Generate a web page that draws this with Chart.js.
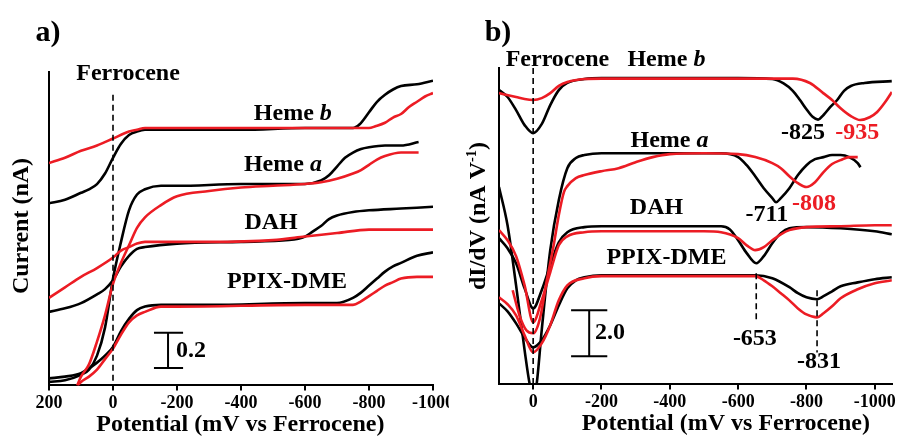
<!DOCTYPE html>
<html>
<head>
<meta charset="utf-8">
<script src="https://cdn.jsdelivr.net/npm/chart.js@4.4.0/dist/chart.umd.min.js"></script>
<style>
  html, body { margin: 0; padding: 0; background: #fff; }
  #wrap { position: relative; width: 898px; height: 436px; overflow: hidden; }
  #panelA { position: absolute; left: 0; top: 0; }
  #panelB { position: absolute; left: 449px; top: 0; background: #fff; }
</style>
</head>
<body>
<div id="wrap">
  <canvas id="panelA" width="470" height="436"></canvas>
  <canvas id="panelB" width="449" height="436"></canvas>
</div>
<script>
// ---- panel a) : current (nA) vs potential (mV vs Fc) ----
const hemeBBlackX = [200, 150, 100, 75, 50, 25, 0, -25, -50, -75, -100, -200, -400, -600, -750, -770, -800, -825, -850, -875, -900, -950, -1000];
const hemeBBlackY = [1.04, 1.06, 1.10, 1.12, 1.15, 1.21, 1.30, 1.38, 1.43, 1.45, 1.46, 1.46, 1.46, 1.47, 1.47, 1.49, 1.56, 1.62, 1.66, 1.69, 1.71, 1.72, 1.74];
const hemeBRedX = [200, 150, 100, 50, 0, -50, -75, -100, -300, -800, -820, -850, -875, -900, -925, -950, -975, -1000];
const hemeBRedY = [1.27, 1.30, 1.34, 1.37, 1.41, 1.45, 1.46, 1.47, 1.47, 1.47, 1.48, 1.50, 1.53, 1.55, 1.59, 1.62, 1.65, 1.67];

const hemeABlackX = [200, 150, 100, 75, 50, 25, 0, -25, -50, -75, -100, -150, -200, -400, -600, -650, -675, -700, -725, -750, -775, -800, -850, -900, -955];
const hemeABlackY = [0.02, 0.03, 0.06, 0.09, 0.17, 0.33, 0.61, 0.82, 1.00, 1.09, 1.12, 1.14, 1.14, 1.15, 1.15, 1.17, 1.20, 1.25, 1.30, 1.33, 1.35, 1.36, 1.37, 1.37, 1.39];
const hemeARedX = [112, 100, 75, 50, 25, 0, -25, -50, -75, -100, -150, -200, -300, -400, -500, -600, -650, -700, -750, -775, -800, -825, -850, -900, -955];
const hemeARedY = [0.0, 0.05, 0.12, 0.25, 0.40, 0.58, 0.70, 0.80, 0.90, 0.96, 1.03, 1.08, 1.11, 1.13, 1.14, 1.15, 1.16, 1.18, 1.21, 1.23, 1.26, 1.29, 1.31, 1.33, 1.33];

const dahBlackX = [200, 150, 100, 50, 25, 0, -25, -50, -75, -100, -200, -400, -550, -600, -625, -650, -675, -700, -750, -800, -900, -1000];
const dahBlackY = [0.42, 0.44, 0.47, 0.52, 0.55, 0.60, 0.68, 0.74, 0.78, 0.79, 0.81, 0.82, 0.83, 0.85, 0.88, 0.91, 0.95, 0.97, 0.99, 1.00, 1.01, 1.02];
const dahRedX = [200, 150, 100, 50, 0, -25, -50, -75, -100, -300, -500, -600, -700, -800, -1000];
const dahRedY = [0.50, 0.56, 0.62, 0.67, 0.73, 0.77, 0.79, 0.81, 0.82, 0.82, 0.83, 0.85, 0.87, 0.89, 0.89];

const ppixBlackX = [200, 150, 100, 50, 25, 0, -25, -50, -75, -100, -150, -300, -600, -700, -750, -775, -800, -825, -850, -875, -900, -950, -1000];
const ppixBlackY = [0.04, 0.05, 0.07, 0.13, 0.17, 0.22, 0.31, 0.38, 0.43, 0.45, 0.46, 0.46, 0.47, 0.47, 0.50, 0.53, 0.57, 0.61, 0.65, 0.68, 0.70, 0.74, 0.76];
const ppixRedX = [110, 100, 75, 50, 25, 0, -25, -50, -75, -100, -150, -200, -600, -750, -775, -800, -825, -850, -875, -900, -950, -1000];
const ppixRedY = [0.0, 0.02, 0.05, 0.09, 0.15, 0.21, 0.29, 0.36, 0.40, 0.42, 0.45, 0.45, 0.46, 0.46, 0.48, 0.51, 0.54, 0.57, 0.59, 0.61, 0.62, 0.62];

// ---- panel b) : dI/dV (nA V^-1) vs potential ----
const dHemeBBlackX = [100, 75, 50, 25, 0, -25, -50, -75, -100, -150, -200, -600, -700, -733, -760, -781, -800, -818, -834, -850, -870, -890, -910, -930, -970, -1050];
const dHemeBBlackY = [12.78, 12.48, 11.91, 11.26, 10.91, 11.30, 12.13, 12.78, 13.09, 13.26, 13.30, 13.30, 13.26, 13.07, 12.75, 12.35, 11.95, 11.62, 11.50, 11.70, 12.05, 12.35, 12.75, 12.96, 13.09, 13.17];
const dHemeBRedX = [100, 50, 25, 0, -25, -50, -75, -100, -150, -200, -760, -810, -849, -875, -899, -930, -957, -985, -1007, -1030, -1050];
const dHemeBRedY = [12.65, 12.48, 12.39, 12.35, 12.43, 12.65, 12.96, 13.13, 13.26, 13.28, 13.28, 13.09, 12.65, 12.35, 12.00, 11.65, 11.48, 11.60, 11.83, 12.25, 12.70];

const dHemeABlackX = [100, 75, 50, 25, 10, 0, -10, -25, -50, -75, -100, -125, -150, -200, -550, -600, -625, -650, -675, -700, -711, -725, -750, -775, -800, -825, -850, -875, -900, -925, -950, -958];
const dHemeABlackY = [8.57, 6.91, 4.30, 1.48, 0.0, -0.5, 0.0, 2.35, 5.83, 8.00, 9.39, 9.83, 9.96, 10.04, 10.04, 9.87, 9.52, 9.04, 8.52, 8.09, 7.91, 8.09, 8.52, 9.09, 9.52, 9.78, 9.87, 9.96, 9.96, 9.87, 9.61, 9.43];
const dHemeARedX = [60, 40, 20, 0, -20, -40, -60, -75, -90, -100, -125, -150, -200, -250, -300, -350, -400, -500, -600, -650, -700, -725, -750, -775, -800, -825, -850, -875, -900, -925, -950];
const dHemeARedY = [4.09, 3.00, 2.35, 2.22, 2.87, 4.52, 6.04, 7.35, 8.35, 8.61, 8.96, 9.09, 9.26, 9.39, 9.65, 9.87, 10.00, 10.04, 10.00, 9.87, 9.61, 9.39, 9.04, 8.74, 8.57, 8.78, 9.22, 9.57, 9.74, 9.87, 9.87];

const dDahBlackX = [100, 75, 50, 25, 0, -25, -50, -75, -100, -150, -200, -550, -575, -600, -625, -653, -675, -700, -725, -750, -800, -900, -1000, -1050];
const dDahBlackY = [6.35, 5.91, 5.26, 4.17, 3.30, 4.09, 5.17, 6.17, 6.61, 6.83, 6.87, 6.87, 6.74, 6.26, 5.70, 5.26, 5.57, 6.13, 6.57, 6.78, 6.83, 6.78, 6.65, 6.52];
const dDahRedX = [100, 75, 50, 25, 0, -25, -50, -75, -100, -150, -200, -500, -550, -600, -625, -650, -675, -700, -725, -750, -800, -900, -1000, -1050];
const dDahRedY = [6.70, 6.26, 5.57, 4.30, 2.70, 3.65, 4.87, 6.04, 6.43, 6.61, 6.65, 6.65, 6.61, 6.35, 6.04, 5.83, 5.96, 6.26, 6.52, 6.70, 6.83, 6.87, 6.91, 6.91];

const dPpixBlackX = [100, 75, 50, 25, 0, -25, -50, -75, -100, -125, -150, -200, -650, -700, -750, -775, -800, -831, -850, -875, -900, -950, -1000, -1050];
const dPpixBlackY = [3.52, 3.17, 2.65, 2.04, 1.61, 1.91, 2.57, 3.43, 4.17, 4.52, 4.65, 4.74, 4.74, 4.61, 4.22, 3.96, 3.78, 3.70, 3.83, 4.04, 4.26, 4.43, 4.57, 4.65];
const dPpixRedX = [100, 75, 50, 25, 0, -25, -50, -75, -100, -150, -200, -650, -675, -700, -725, -750, -775, -800, -831, -850, -875, -900, -950, -1000, -1050];
const dPpixRedY = [3.78, 3.48, 3.00, 2.13, 1.39, 1.78, 2.57, 3.65, 4.30, 4.61, 4.70, 4.70, 4.52, 4.26, 3.96, 3.65, 3.30, 3.04, 2.91, 3.09, 3.39, 3.74, 4.13, 4.39, 4.52];

const RED = "#ec1c24";
const BLACK = "#000";
const SERIF = '"Liberation Serif", "Times New Roman", serif';

function curve(xs, ys, color) {
  return {
    data: xs.map((v, i) => ({ x: v, y: ys[i] })),
    borderColor: color,
    borderWidth: 2.6,
    pointRadius: 0,
    fill: false,
    cubicInterpolationMode: "monotone"
  };
}

// draw a run of text pieces (bold, some italic / superscript) centred or left-aligned
function drawParts(ctx, parts, x, y, size, align) {
  const fontOf = p => (p.italic ? "italic " : "") + "bold " + (p.sup ? size * 0.6 : size) + "px " + SERIF;
  let total = 0;
  parts.forEach(p => { ctx.font = fontOf(p); total += ctx.measureText(p.t).width; });
  let cx = align === "left" ? x : x - total / 2;
  ctx.textBaseline = "middle";
  ctx.textAlign = "left";
  parts.forEach(p => {
    ctx.font = fontOf(p);
    ctx.fillStyle = p.color || BLACK;
    ctx.fillText(p.t, cx, p.sup ? y - size * 0.3 : y);
    cx += ctx.measureText(p.t).width;
  });
}

const figureMarks = {
  id: "figureMarks",
  afterDatasetsDraw(chart, args, o) {
    const { ctx, chartArea } = chart;
    const xs = chart.scales.x, ys = chart.scales.y;
    const px = v => xs.getPixelForValue(v), py = v => ys.getPixelForValue(v);
    ctx.save();

    ctx.strokeStyle = BLACK;
    ctx.lineWidth = 1.6;
    ctx.setLineDash([6, 4]);
    o.guides.forEach(g => {
      ctx.beginPath();
      ctx.moveTo(px(g.at), py(g.from));
      ctx.lineTo(px(g.at), py(g.to));
      ctx.stroke();
    });
    ctx.setLineDash([]);

    // scale bar
    const b = o.bar;
    ctx.lineWidth = 2;
    ctx.beginPath();
    ctx.moveTo(px(b.at), py(b.lo)); ctx.lineTo(px(b.at), py(b.hi));
    ctx.moveTo(px(b.capL), py(b.lo)); ctx.lineTo(px(b.capR), py(b.lo));
    ctx.moveTo(px(b.capL), py(b.hi)); ctx.lineTo(px(b.capR), py(b.hi));
    ctx.stroke();
    drawParts(ctx, [{ t: b.text }], px(b.textAt), py((b.lo + b.hi) / 2), 24, "left");

    o.labels.forEach(l => drawParts(ctx, l.parts, px(l.x), py(l.y), 24, "center"));

    // panel letter and axis titles
    drawParts(ctx, [{ t: o.letter }], chartArea.left - 1, 33, 30, "center");
    drawParts(ctx, [{ t: "Potential (mV vs Ferrocene)" }], px(o.xTitleAt), chartArea.bottom + 39, 24, "center");
    ctx.translate(chartArea.left - o.yTitleGap, o.yTitleY);
    ctx.rotate(-Math.PI / 2);
    drawParts(ctx, o.yTitle, 0, 0, 24, "center");
    ctx.restore();
  }
};

function makeChart(id, datasets, xMin, xMax, yMax, padding, marks) {
  return new Chart(document.getElementById(id), {
    type: "scatter",
    data: { datasets: datasets },
    options: {
      responsive: false,
      animation: false,
      showLine: true,
      layout: { padding: padding },
      plugins: { legend: { display: false }, tooltip: { enabled: false }, figureMarks: marks },
      scales: {
        x: {
          type: "linear", reverse: true, min: xMin, max: xMax,
          ticks: {
            stepSize: 200, includeBounds: false, autoSkip: false, maxRotation: 0, padding: 2,
            color: BLACK, font: { family: SERIF, weight: "bold", size: 18 },
            callback: v => String(v)
          },
          grid: { drawOnChartArea: false, drawTicks: true, tickLength: 5, color: BLACK, lineWidth: 2 },
          border: { color: BLACK, width: 2 }
        },
        y: {
          type: "linear", min: 0, max: yMax,
          ticks: { display: false },
          grid: { display: false, drawTicks: false, tickLength: 0 },
          border: { display: true, color: BLACK, width: 2 }
        }
      }
    },
    plugins: [figureMarks]
  });
}

const italicTail = (head, tail) => [{ t: head }, { t: tail, italic: true }];

makeChart("panelA", [
  curve(hemeBRedX, hemeBRedY, RED),
  curve(hemeARedX, hemeARedY, RED),
  curve(dahRedX, dahRedY, RED),
  curve(ppixRedX, ppixRedY, RED),
  curve(hemeBBlackX, hemeBBlackY, BLACK),
  curve(hemeABlackX, hemeABlackY, BLACK),
  curve(dahBlackX, dahBlackY, BLACK),
  curve(ppixBlackX, ppixBlackY, BLACK)
], -1000, 200, 1.79, { left: 49, right: 37, top: 72, bottom: 20 }, {
  letter: "a)",
  xTitleAt: -398,
  yTitleGap: 27,
  yTitleY: 226,
  yTitle: [{ t: "Current (nA)" }],
  guides: [{ at: 0, from: 1.66, to: 0 }],
  bar: { at: -172, capL: -128, capR: -219, lo: 0.1, hi: 0.3, text: "0.2", textAt: -197 },
  labels: [
    { x: -47, y: 1.78, parts: [{ t: "Ferrocene" }] },
    { x: -562, y: 1.55, parts: italicTail("Heme ", "b") },
    { x: -531, y: 1.26, parts: italicTail("Heme ", "a") },
    { x: -494, y: 0.93, parts: [{ t: "DAH" }] },
    { x: -544, y: 0.59, parts: [{ t: "PPIX-DME" }] }
  ]
});

makeChart("panelB", [
  curve(dHemeBRedX, dHemeBRedY, RED),
  curve(dHemeARedX, dHemeARedY, RED),
  curve(dDahRedX, dDahRedY, RED),
  curve(dPpixRedX, dPpixRedY, RED),
  curve(dHemeBBlackX, dHemeBBlackY, BLACK),
  curve(dHemeABlackX, dHemeABlackY, BLACK),
  curve(dDahBlackX, dDahBlackY, BLACK),
  curve(dPpixBlackX, dPpixBlackY, BLACK)
], -1050, 100, 13.74, { left: 50, right: 5, top: 68, bottom: 21 }, {
  letter: "b)",
  xTitleAt: -564,
  yTitleGap: 20,
  yTitleY: 216,
  yTitle: [{ t: "dI/dV (nA V" }, { t: "-1", sup: true }, { t: ")" }],
  guides: [{ at: 0, from: 13.74, to: 0 }, { at: -653, from: 4.83, to: 2.78 }, { at: -831, from: 4.09, to: 1.39 }],
  bar: { at: -164, capL: -111, capR: -217, lo: 1.22, hi: 3.22, text: "2.0", textAt: -181 },
  labels: [
    { x: -71, y: 14.1, parts: [{ t: "Ferrocene" }] },
    { x: -390, y: 14.1, parts: italicTail("Heme ", "b") },
    { x: -399, y: 10.6, parts: italicTail("Heme ", "a") },
    { x: -361, y: 7.65, parts: [{ t: "DAH" }] },
    { x: -390, y: 5.48, parts: [{ t: "PPIX-DME" }] },
    { x: -790, y: 10.91, parts: [{ t: "-825" }] },
    { x: -949, y: 10.91, parts: [{ t: "-935", color: RED }] },
    { x: -684, y: 7.35, parts: [{ t: "-711" }] },
    { x: -822, y: 7.83, parts: [{ t: "-808", color: RED }] },
    { x: -649, y: 2.0, parts: [{ t: "-653" }] },
    { x: -837, y: 0.96, parts: [{ t: "-831" }] }
  ]
});
</script>
</body>
</html>
